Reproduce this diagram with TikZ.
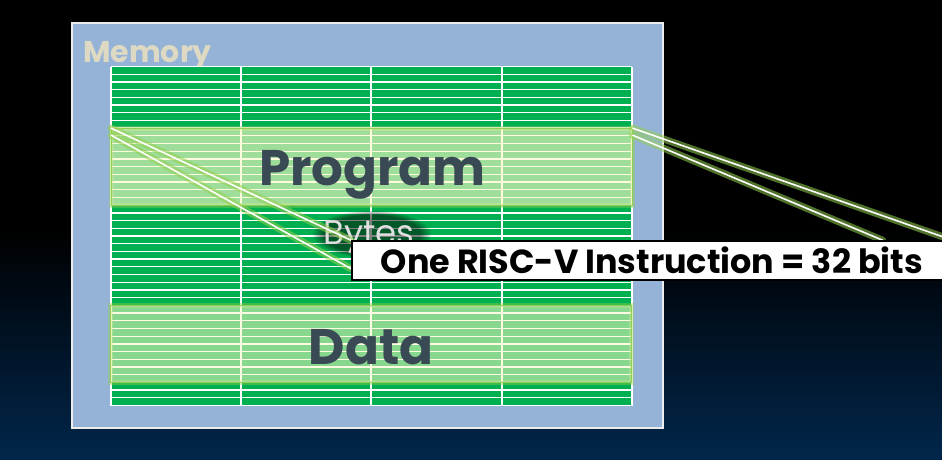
\documentclass[tikz,border=0pt]{standalone}
\usepackage{fontspec}
\setmainfont{Poppins}
\usetikzlibrary{calc,fadings}
\pgfdeclarelayer{front}
\pgfsetlayers{main,front}
\definecolor{memblue}{HTML}{95B3D7}
\definecolor{cellgreen}{HTML}{00B050}
\definecolor{hlgreen}{HTML}{92D050}
\definecolor{hlfill}{RGB}{255,250,200}
\definecolor{slate}{HTML}{3A4A55}
\definecolor{beige}{HTML}{DDD9C3}
\definecolor{navy}{RGB}{1,38,75}
\tikzset{
  membox/.style={draw=white!85!gray, line width=1.5pt, fill=memblue, inner sep=0pt, anchor=north west},
  gridbox/.style={fill=cellgreen, inner sep=0pt, anchor=north west},
  hlbox/.style={inner sep=0pt, anchor=north west},
  bigword/.style={text=slate, font=\fontsize{50}{50}\selectfont\bfseries, anchor=base},
  calloutbox/.style={draw=black, line width=1.5pt, fill=white, inner xsep=29pt, minimum height=39pt, anchor=west, font=\fontsize{33.4}{33.4}\selectfont\bfseries, text=black},
  glowline/.style={draw=hlgreen, line width=7pt, opacity=0.55, line cap=round},
  whiteline/.style={draw=white, line width=1.6pt},
}
\begin{document}
\begin{tikzpicture}[x=1pt,y=-1pt]
\useasboundingbox (0,0) rectangle (942,459);
% background
\fill[black] (0,0) rectangle (942,459);
\shade[top color=black, bottom color=navy] (0,230) rectangle (942,459);
% memory box
\node[membox, minimum width=591pt, minimum height=405pt] (mem) at (71,22) {};
\node[text=beige, font=\fontsize{30}{30}\selectfont\bfseries, anchor=base west, inner sep=0pt] (memlabel) at (83,62) {Memory};
% grid of bytes
\def\gy{66.5}
\def\gp{7.7045}
\node[gridbox, minimum width=521pt, minimum height=339pt] (grid) at (111,66.5) {};
\foreach \i in {0,...,44} {
  \draw[white, line width=1.3pt] (111,{\gy+\i*\gp}) -- (632,{\gy+\i*\gp});
}
\foreach \x in {111,241,371,502,632} {
  \draw[white, line width=1.3pt] (\x,66.5) -- (\x,405.5);
}
% highlighted regions
\node[hlbox, minimum width=521pt, minimum height=77pt] (prog) at (111,128.1) {};
\node[hlbox, minimum width=521pt, minimum height=77pt] (data) at (110,305.4) {};
\foreach \r in {prog,data} {
  \draw[hlgreen, line width=5pt, opacity=0.4] (\r.north west) rectangle (\r.south east);
}
\fill[hlfill, opacity=0.62] (prog.north west) rectangle (prog.south east);
\fill[hlfill, opacity=0.53] (data.north west) rectangle (data.south east);
\draw[hlgreen, line width=1pt] (prog.north west) rectangle (prog.south east);
\draw[hlgreen, line width=1pt] (data.north west) rectangle (data.south east);
\node[bigword] (progtext) at (372.5,185) {Program};
\node[bigword] (datatext) at (371,364.5) {Data};
% Bytes with a dark soft glow
\fill[black, opacity=0.5, path fading=circle with fuzzy edge 20 percent] (371.5,234) ellipse [x radius=60, y radius=24];
\node[text=gray!25, font=\fontsize{34}{34}\selectfont, anchor=base west, inner sep=0pt] (bytes) at (323,244) {Bytes};
% callout (drawn on the front layer, above the connectors)
\begin{pgfonlayer}{front}
\node[calloutbox] (callout) at (351,260.5) {One RISC-V Instruction = 32 bits};
\end{pgfonlayer}
\coordinate (pA) at (prog.north west);
\coordinate (pB) at ($(prog.north west)+(0,7)$);
\coordinate (pC) at (prog.north east);
\coordinate (pD) at ($(prog.north east)+(0,7)$);
\coordinate (cA) at (callout.north west);
\coordinate (cB) at ($(callout.north west)+(1,29)$);
\coordinate (cC) at (callout.north east);
\coordinate (cD) at ($(callout.north east)+(-70,0)$);
\foreach \s/\t in {pA/cA,pB/cB,pC/cC,pD/cD} {
  \draw[glowline] (\s) -- (\t);
}
\foreach \s/\t in {pA/cA,pB/cB,pC/cC,pD/cD} {
  \draw[whiteline] (\s) -- (\t);
}
\end{tikzpicture}
\end{document}
